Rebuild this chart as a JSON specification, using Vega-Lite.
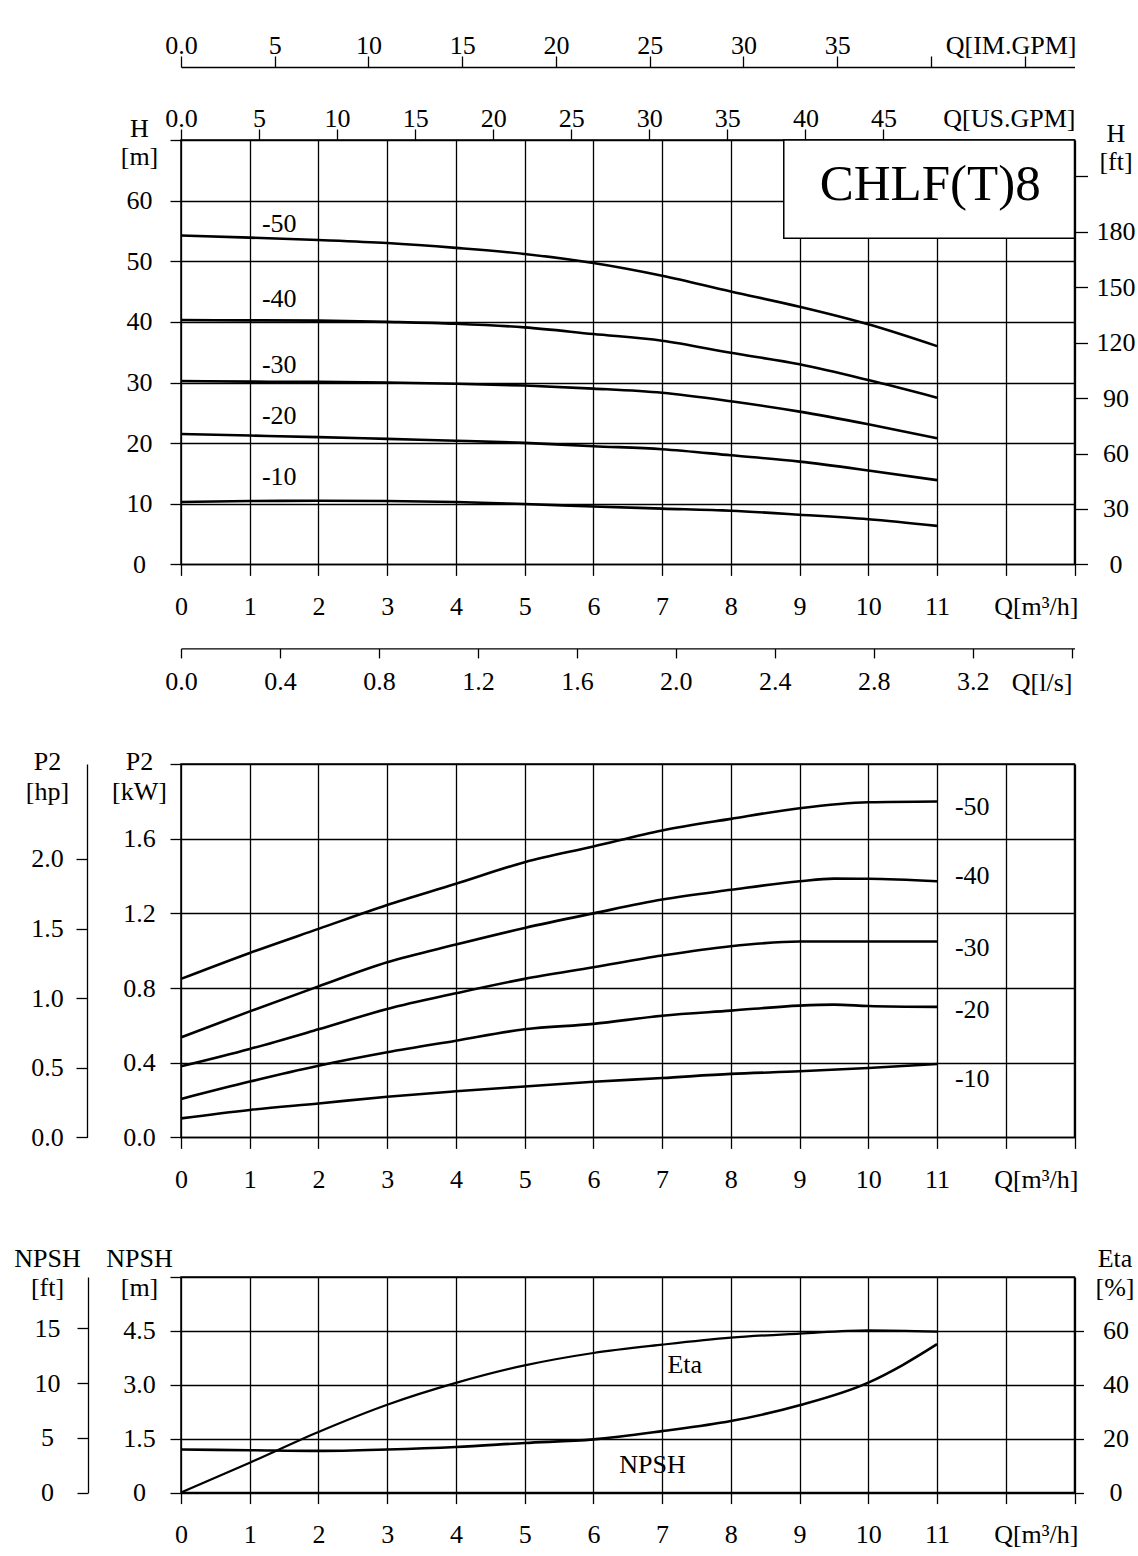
{
  "$schema": "https://vega.github.io/schema/vega-lite/v6.json",
  "background": "white",
  "padding": {"left": 13, "top": 31, "right": 0, "bottom": 0},
  "spacing": 50,
  "config": {
    "font": "Liberation Serif",
    "view": {"stroke": "black", "strokeWidth": 1.5},
    "axis": {
      "labelFont": "Liberation Serif", "labelFontSize": 26, "labelColor": "black",
      "titleFont": "Liberation Serif", "titleFontSize": 26, "titleFontWeight": "normal", "titleColor": "black",
      "tickColor": "black", "tickWidth": 1.3, "gridColor": "black", "gridOpacity": 1, "gridWidth": 1.3,
      "domainColor": "black", "domainWidth": 1.3, "labelOverlap": false, "labelFlush": false
    },
    "text": {"font": "Liberation Serif", "fontSize": 26, "color": "black"}
  },
  "datasets": {
    "head": [
      {"curve": "-50", "Q": 0, "H": 54.25}, {"curve": "-50", "Q": 1, "H": 53.9}, {"curve": "-50", "Q": 2, "H": 53.5},
      {"curve": "-50", "Q": 3, "H": 53.0}, {"curve": "-50", "Q": 4, "H": 52.2}, {"curve": "-50", "Q": 5, "H": 51.2},
      {"curve": "-50", "Q": 6, "H": 49.7}, {"curve": "-50", "Q": 7, "H": 47.6}, {"curve": "-50", "Q": 8, "H": 45.0},
      {"curve": "-50", "Q": 9, "H": 42.5}, {"curve": "-50", "Q": 10, "H": 39.6}, {"curve": "-50", "Q": 11, "H": 36.0},
      {"curve": "-40", "Q": 0, "H": 40.3}, {"curve": "-40", "Q": 1, "H": 40.25}, {"curve": "-40", "Q": 2, "H": 40.2},
      {"curve": "-40", "Q": 3, "H": 40.0}, {"curve": "-40", "Q": 4, "H": 39.7}, {"curve": "-40", "Q": 5, "H": 39.1},
      {"curve": "-40", "Q": 6, "H": 38.0}, {"curve": "-40", "Q": 7, "H": 36.9}, {"curve": "-40", "Q": 8, "H": 34.9},
      {"curve": "-40", "Q": 9, "H": 33.0}, {"curve": "-40", "Q": 10, "H": 30.4}, {"curve": "-40", "Q": 11, "H": 27.5},
      {"curve": "-30", "Q": 0, "H": 30.25}, {"curve": "-30", "Q": 1, "H": 30.15}, {"curve": "-30", "Q": 2, "H": 30.1},
      {"curve": "-30", "Q": 3, "H": 30.0}, {"curve": "-30", "Q": 4, "H": 29.8}, {"curve": "-30", "Q": 5, "H": 29.5},
      {"curve": "-30", "Q": 6, "H": 29.0}, {"curve": "-30", "Q": 7, "H": 28.3}, {"curve": "-30", "Q": 8, "H": 26.9},
      {"curve": "-30", "Q": 9, "H": 25.2}, {"curve": "-30", "Q": 10, "H": 23.1}, {"curve": "-30", "Q": 11, "H": 20.8},
      {"curve": "-20", "Q": 0, "H": 21.5}, {"curve": "-20", "Q": 1, "H": 21.25}, {"curve": "-20", "Q": 2, "H": 21.0},
      {"curve": "-20", "Q": 3, "H": 20.7}, {"curve": "-20", "Q": 4, "H": 20.4}, {"curve": "-20", "Q": 5, "H": 20.05},
      {"curve": "-20", "Q": 6, "H": 19.5}, {"curve": "-20", "Q": 7, "H": 19.0}, {"curve": "-20", "Q": 8, "H": 18.0},
      {"curve": "-20", "Q": 9, "H": 16.95}, {"curve": "-20", "Q": 10, "H": 15.5}, {"curve": "-20", "Q": 11, "H": 13.9},
      {"curve": "-10", "Q": 0, "H": 10.3}, {"curve": "-10", "Q": 1, "H": 10.45}, {"curve": "-10", "Q": 2, "H": 10.5},
      {"curve": "-10", "Q": 3, "H": 10.45}, {"curve": "-10", "Q": 4, "H": 10.3}, {"curve": "-10", "Q": 5, "H": 9.95},
      {"curve": "-10", "Q": 6, "H": 9.55}, {"curve": "-10", "Q": 7, "H": 9.2}, {"curve": "-10", "Q": 8, "H": 8.85},
      {"curve": "-10", "Q": 9, "H": 8.2}, {"curve": "-10", "Q": 10, "H": 7.45}, {"curve": "-10", "Q": 11, "H": 6.35}
    ],
    "head_labels": [
      {"label": "-50", "Q": 1.43, "H": 56.1},
      {"label": "-40", "Q": 1.43, "H": 43.75},
      {"label": "-30", "Q": 1.43, "H": 32.9},
      {"label": "-20", "Q": 1.43, "H": 24.4},
      {"label": "-10", "Q": 1.43, "H": 14.45}
    ],
    "model": [
      {"name": "CHLF(T)8", "Q1": 8.77, "Q2": 13, "H1": 53.8, "H2": 70, "Qc": 10.9, "Hc": 62.6}
    ],
    "power": [
      {"curve": "-50", "Q": 0, "P": 0.849}, {"curve": "-50", "Q": 1, "P": 0.988}, {"curve": "-50", "Q": 2, "P": 1.117},
      {"curve": "-50", "Q": 3, "P": 1.245}, {"curve": "-50", "Q": 4, "P": 1.358}, {"curve": "-50", "Q": 5, "P": 1.474},
      {"curve": "-50", "Q": 6, "P": 1.558}, {"curve": "-50", "Q": 7, "P": 1.644}, {"curve": "-50", "Q": 8, "P": 1.706},
      {"curve": "-50", "Q": 9, "P": 1.763}, {"curve": "-50", "Q": 10, "P": 1.795}, {"curve": "-50", "Q": 11, "P": 1.799},
      {"curve": "-40", "Q": 0, "P": 0.536}, {"curve": "-40", "Q": 1, "P": 0.675}, {"curve": "-40", "Q": 2, "P": 0.809},
      {"curve": "-40", "Q": 3, "P": 0.938}, {"curve": "-40", "Q": 4, "P": 1.033}, {"curve": "-40", "Q": 5, "P": 1.122},
      {"curve": "-40", "Q": 6, "P": 1.2}, {"curve": "-40", "Q": 7, "P": 1.274}, {"curve": "-40", "Q": 8, "P": 1.326},
      {"curve": "-40", "Q": 9, "P": 1.372}, {"curve": "-40", "Q": 9.5, "P": 1.386}, {"curve": "-40", "Q": 10, "P": 1.385},
      {"curve": "-40", "Q": 11, "P": 1.372},
      {"curve": "-30", "Q": 0, "P": 0.381}, {"curve": "-30", "Q": 1, "P": 0.474}, {"curve": "-30", "Q": 2, "P": 0.579},
      {"curve": "-30", "Q": 3, "P": 0.688}, {"curve": "-30", "Q": 4, "P": 0.772}, {"curve": "-30", "Q": 5, "P": 0.849},
      {"curve": "-30", "Q": 6, "P": 0.911}, {"curve": "-30", "Q": 7, "P": 0.974}, {"curve": "-30", "Q": 8, "P": 1.024},
      {"curve": "-30", "Q": 9, "P": 1.049}, {"curve": "-30", "Q": 10, "P": 1.049}, {"curve": "-30", "Q": 11, "P": 1.049},
      {"curve": "-20", "Q": 0, "P": 0.206}, {"curve": "-20", "Q": 1, "P": 0.299}, {"curve": "-20", "Q": 2, "P": 0.384},
      {"curve": "-20", "Q": 3, "P": 0.456}, {"curve": "-20", "Q": 4, "P": 0.518}, {"curve": "-20", "Q": 5, "P": 0.579},
      {"curve": "-20", "Q": 6, "P": 0.608}, {"curve": "-20", "Q": 7, "P": 0.652}, {"curve": "-20", "Q": 8, "P": 0.679},
      {"curve": "-20", "Q": 9, "P": 0.706}, {"curve": "-20", "Q": 9.5, "P": 0.711}, {"curve": "-20", "Q": 10, "P": 0.704},
      {"curve": "-20", "Q": 11, "P": 0.699},
      {"curve": "-10", "Q": 0, "P": 0.102}, {"curve": "-10", "Q": 1, "P": 0.147}, {"curve": "-10", "Q": 2, "P": 0.182},
      {"curve": "-10", "Q": 3, "P": 0.218}, {"curve": "-10", "Q": 4, "P": 0.247}, {"curve": "-10", "Q": 5, "P": 0.273},
      {"curve": "-10", "Q": 6, "P": 0.298}, {"curve": "-10", "Q": 7, "P": 0.318}, {"curve": "-10", "Q": 8, "P": 0.34},
      {"curve": "-10", "Q": 9, "P": 0.354}, {"curve": "-10", "Q": 10, "P": 0.372}, {"curve": "-10", "Q": 11, "P": 0.393}
    ],
    "power_labels": [
      {"label": "-50", "Q": 11.26, "P": 1.768},
      {"label": "-40", "Q": 11.26, "P": 1.402},
      {"label": "-30", "Q": 11.26, "P": 1.015},
      {"label": "-20", "Q": 11.26, "P": 0.683},
      {"label": "-10", "Q": 11.26, "P": 0.313}
    ],
    "npsh": [
      {"Q": 0, "NPSH": 1.2}, {"Q": 1, "NPSH": 1.18}, {"Q": 2, "NPSH": 1.16}, {"Q": 3, "NPSH": 1.2},
      {"Q": 4, "NPSH": 1.27}, {"Q": 5, "NPSH": 1.38}, {"Q": 6, "NPSH": 1.48}, {"Q": 7, "NPSH": 1.71},
      {"Q": 8, "NPSH": 1.99}, {"Q": 9, "NPSH": 2.43}, {"Q": 10, "NPSH": 3.06}, {"Q": 10.5, "NPSH": 3.55},
      {"Q": 11, "NPSH": 4.13}
    ],
    "eta": [
      {"Q": 0, "Eta": 0}, {"Q": 1, "Eta": 11.1}, {"Q": 2, "Eta": 22.5}, {"Q": 3, "Eta": 32.6},
      {"Q": 4, "Eta": 40.7}, {"Q": 5, "Eta": 47.2}, {"Q": 6, "Eta": 51.8}, {"Q": 7, "Eta": 54.9},
      {"Q": 8, "Eta": 57.5}, {"Q": 9, "Eta": 59.0}, {"Q": 10, "Eta": 60.2}, {"Q": 11, "Eta": 59.7}
    ],
    "eta_labels": [
      {"label": "Eta", "Q": 7.33, "Eta": 47.3},
      {"label": "NPSH", "Q": 6.86, "Eta": 10.2}
    ]
  },
  "vconcat": [
    {
      "width": 893.5,
      "height": 424.4,
      "layer": [
        {
          "data": {"name": "head"},
          "mark": {"type": "line", "interpolate": "monotone", "color": "black", "strokeWidth": 2.6},
          "encoding": {
            "x": {
              "field": "Q", "type": "quantitative",
              "scale": {"domain": [0, 13], "nice": false, "zero": false},
              "axis": {
                "orient": "bottom", "values": [0, 1, 2, 3, 4, 5, 6, 7, 8, 9, 10, 11, 12, 13],
                "grid": true, "domain": false, "tickSize": 11,
                "labelBaseline": "alphabetic", "labelPadding": 39,
                "labelExpr": "datum.value <= 11 ? datum.label : ''",
                "title": "Q[m³/h]", "titleX": 897, "titleY": 50, "titleAlign": "right", "titleBaseline": "alphabetic"
              }
            },
            "y": {
              "field": "H", "type": "quantitative",
              "scale": {"domain": [0, 70], "nice": false},
              "axis": {
                "orient": "left", "values": [0, 10, 20, 30, 40, 50, 60, 70],
                "grid": true, "domain": false, "tickSize": 11,
                "labelAlign": "center", "labelBaseline": "middle", "labelPadding": 31,
                "labelExpr": "datum.value < 70 ? datum.label : ''",
                "title": ["H", "[m]"], "titleAngle": 0, "titleX": -42, "titleY": -4,
                "titleAlign": "center", "titleBaseline": "alphabetic", "titleLineHeight": 28
              }
            },
            "detail": {"field": "curve", "type": "nominal"}
          }
        },
        {
          "data": {"name": "head_labels"},
          "mark": {"type": "text", "align": "center", "baseline": "middle"},
          "encoding": {
            "x": {"field": "Q", "type": "quantitative", "scale": {"domain": [0, 13], "nice": false, "zero": false}, "axis": null},
            "y": {"field": "H", "type": "quantitative", "scale": {"domain": [0, 70], "nice": false}, "axis": null},
            "text": {"field": "label"}
          }
        },
        {
          "data": {"name": "model"},
          "mark": {"type": "rect", "fill": "white", "stroke": "black", "strokeWidth": 1.5},
          "encoding": {
            "x": {"field": "Q1", "type": "quantitative", "scale": {"domain": [0, 13], "nice": false, "zero": false}, "axis": null},
            "x2": {"field": "Q2"},
            "y": {"field": "H1", "type": "quantitative", "scale": {"domain": [0, 70], "nice": false}, "axis": null},
            "y2": {"field": "H2"}
          }
        },
        {
          "data": {"name": "model"},
          "mark": {"type": "text", "fontSize": 51, "align": "center", "baseline": "middle"},
          "encoding": {
            "x": {"field": "Qc", "type": "quantitative", "scale": {"domain": [0, 13], "nice": false, "zero": false}, "axis": null},
            "y": {"field": "Hc", "type": "quantitative", "scale": {"domain": [0, 70], "nice": false}, "axis": null},
            "text": {"field": "name"}
          }
        },
        {
          "data": {"values": [{}]},
          "mark": {"type": "point", "opacity": 0},
          "encoding": {
            "x": {
              "datum": 0, "type": "quantitative",
              "scale": {"domain": [0, 57.24], "nice": false, "zero": false},
              "axis": {
                "orient": "top", "values": [0, 5, 10, 15, 20, 25, 30, 35, 40, 45],
                "grid": false, "domain": false, "tickSize": 11,
                "labelBaseline": "alphabetic", "labelPadding": 3,
                "labelExpr": "datum.value == 0 ? '0.0' : datum.label",
                "title": "Q[US.GPM]", "titleX": 894, "titleY": -14, "titleAlign": "right", "titleBaseline": "alphabetic"
              }
            },
            "y": {"datum": 0, "type": "quantitative", "scale": {"domain": [0, 1]}, "axis": null}
          }
        },
        {
          "data": {"values": [{}]},
          "mark": {"type": "point", "opacity": 0},
          "encoding": {
            "x": {
              "datum": 0, "type": "quantitative",
              "scale": {"domain": [0, 47.66], "nice": false, "zero": false},
              "axis": {
                "orient": "top", "offset": 73, "values": [0, 5, 10, 15, 20, 25, 30, 35, 40, 45],
                "grid": false, "domain": true, "tickSize": 11,
                "labelBaseline": "alphabetic", "labelPadding": 3,
                "labelExpr": "datum.value == 0 ? '0.0' : datum.value <= 35 ? datum.label : ''",
                "title": "Q[IM.GPM]", "titleX": 895, "titleY": -14, "titleAlign": "right", "titleBaseline": "alphabetic"
              }
            },
            "y": {"datum": 0, "type": "quantitative", "scale": {"domain": [0, 1]}, "axis": null}
          }
        },
        {
          "data": {"values": [{}]},
          "mark": {"type": "point", "opacity": 0},
          "encoding": {
            "x": {
              "datum": 0, "type": "quantitative",
              "scale": {"domain": [0, 3.6111], "nice": false, "zero": false},
              "axis": {
                "orient": "bottom", "offset": 84, "values": [0, 0.4, 0.8, 1.2, 1.6, 2.0, 2.4, 2.8, 3.2, 3.6],
                "grid": false, "domain": true, "tickSize": 9.5,
                "labelBaseline": "alphabetic", "labelPadding": 32,
                "labelExpr": "datum.value > 3.4 ? '' : format(datum.value, '.1f')",
                "title": "Q[l/s]", "titleX": 891, "titleY": 42, "titleAlign": "right", "titleBaseline": "alphabetic"
              }
            },
            "y": {"datum": 0, "type": "quantitative", "scale": {"domain": [0, 1]}, "axis": null}
          }
        },
        {
          "data": {"values": [{}]},
          "mark": {"type": "point", "opacity": 0},
          "encoding": {
            "x": {"datum": 0, "type": "quantitative", "scale": {"domain": [0, 13], "nice": false, "zero": false}, "axis": null},
            "y": {
              "datum": 0, "type": "quantitative",
              "scale": {"domain": [0, 229.66], "nice": false, "zero": false},
              "axis": {
                "orient": "right", "values": [0, 30, 60, 90, 120, 150, 180, 210],
                "grid": false, "domain": false, "tickSize": 13,
                "labelAlign": "center", "labelBaseline": "middle", "labelPadding": 28,
                "labelExpr": "datum.value < 200 ? datum.label : ''",
                "title": ["H", "[ft]"], "titleAngle": 0, "titleX": 41, "titleY": 1,
                "titleAlign": "center", "titleBaseline": "alphabetic", "titleLineHeight": 28
              }
            }
          }
        }
      ],
      "resolve": {"scale": {"x": "independent", "y": "independent"}, "axis": {"x": "independent", "y": "independent"}}
    },
    {
      "width": 893.5,
      "height": 373.4,
      "layer": [
        {
          "data": {"name": "power"},
          "mark": {"type": "line", "interpolate": "monotone", "color": "black", "strokeWidth": 2.6},
          "encoding": {
            "x": {
              "field": "Q", "type": "quantitative",
              "scale": {"domain": [0, 13], "nice": false, "zero": false},
              "axis": {
                "orient": "bottom", "values": [0, 1, 2, 3, 4, 5, 6, 7, 8, 9, 10, 11, 12, 13],
                "grid": true, "domain": false, "tickSize": 11,
                "labelBaseline": "alphabetic", "labelPadding": 39,
                "labelExpr": "datum.value <= 11 ? datum.label : ''",
                "title": "Q[m³/h]", "titleX": 897, "titleY": 50, "titleAlign": "right", "titleBaseline": "alphabetic"
              }
            },
            "y": {
              "field": "P", "type": "quantitative",
              "scale": {"domain": [0, 2], "nice": false},
              "axis": {
                "orient": "left", "values": [0, 0.4, 0.8, 1.2, 1.6, 2.0],
                "grid": true, "domain": false, "tickSize": 11,
                "labelAlign": "center", "labelBaseline": "middle", "labelPadding": 31,
                "labelExpr": "datum.value > 1.9 ? '' : format(datum.value, '.1f')",
                "title": ["P2", "[kW]"], "titleAngle": 0, "titleX": -42, "titleY": 5,
                "titleAlign": "center", "titleBaseline": "alphabetic", "titleLineHeight": 30
              }
            },
            "detail": {"field": "curve", "type": "nominal"}
          }
        },
        {
          "data": {"name": "power_labels"},
          "mark": {"type": "text", "align": "left", "baseline": "middle"},
          "encoding": {
            "x": {"field": "Q", "type": "quantitative", "scale": {"domain": [0, 13], "nice": false, "zero": false}, "axis": null},
            "y": {"field": "P", "type": "quantitative", "scale": {"domain": [0, 2], "nice": false}, "axis": null},
            "text": {"field": "label"}
          }
        },
        {
          "data": {"values": [{}]},
          "mark": {"type": "point", "opacity": 0},
          "encoding": {
            "x": {"datum": 0, "type": "quantitative", "scale": {"domain": [0, 13], "nice": false, "zero": false}, "axis": null},
            "y": {
              "datum": 0, "type": "quantitative",
              "scale": {"domain": [0, 2.682], "nice": false, "zero": false},
              "axis": {
                "orient": "left", "offset": 94, "values": [0, 0.5, 1, 1.5, 2],
                "grid": false, "domain": true, "tickSize": 11,
                "labelAlign": "center", "labelBaseline": "middle", "labelPadding": 29,
                "labelExpr": "format(datum.value, '.1f')",
                "title": ["P2", "[hp]"], "titleAngle": 0, "titleX": -40, "titleY": 5,
                "titleAlign": "center", "titleBaseline": "alphabetic", "titleLineHeight": 30
              }
            }
          }
        }
      ],
      "resolve": {"scale": {"x": "independent", "y": "independent"}, "axis": {"x": "independent", "y": "independent"}}
    },
    {
      "width": 893.5,
      "height": 215.6,
      "layer": [
        {
          "data": {"name": "npsh"},
          "mark": {"type": "line", "interpolate": "monotone", "color": "black", "strokeWidth": 2.6},
          "encoding": {
            "x": {
              "field": "Q", "type": "quantitative",
              "scale": {"domain": [0, 13], "nice": false, "zero": false},
              "axis": {
                "orient": "bottom", "values": [0, 1, 2, 3, 4, 5, 6, 7, 8, 9, 10, 11, 12, 13],
                "grid": true, "domain": false, "tickSize": 11,
                "labelBaseline": "alphabetic", "labelPadding": 39,
                "labelExpr": "datum.value <= 11 ? datum.label : ''",
                "title": "Q[m³/h]", "titleX": 897, "titleY": 50, "titleAlign": "right", "titleBaseline": "alphabetic"
              }
            },
            "y": {
              "field": "NPSH", "type": "quantitative",
              "scale": {"domain": [0, 6], "nice": false},
              "axis": {
                "orient": "left", "values": [0, 1.5, 3, 4.5, 6],
                "grid": true, "domain": false, "tickSize": 11,
                "labelAlign": "center", "labelBaseline": "middle", "labelPadding": 31,
                "labelExpr": "datum.value == 0 ? '0' : datum.value > 5 ? '' : format(datum.value, '.1f')",
                "title": ["NPSH", "[m]"], "titleAngle": 0, "titleX": -42, "titleY": -11,
                "titleAlign": "center", "titleBaseline": "alphabetic", "titleLineHeight": 29
              }
            }
          }
        },
        {
          "data": {"name": "eta"},
          "mark": {"type": "line", "interpolate": "monotone", "color": "black", "strokeWidth": 2.2},
          "encoding": {
            "x": {"field": "Q", "type": "quantitative", "scale": {"domain": [0, 13], "nice": false, "zero": false}, "axis": null},
            "y": {
              "field": "Eta", "type": "quantitative",
              "scale": {"domain": [0, 80], "nice": false},
              "axis": {
                "orient": "right", "values": [0, 20, 40, 60],
                "grid": false, "domain": false, "tickSize": 9,
                "labelAlign": "center", "labelBaseline": "middle", "labelPadding": 32,
                "title": ["Eta", "[%]"], "titleAngle": 0, "titleX": 40, "titleY": -11,
                "titleAlign": "center", "titleBaseline": "alphabetic", "titleLineHeight": 29
              }
            }
          }
        },
        {
          "data": {"name": "eta_labels"},
          "mark": {"type": "text", "align": "center", "baseline": "middle"},
          "encoding": {
            "x": {"field": "Q", "type": "quantitative", "scale": {"domain": [0, 13], "nice": false, "zero": false}, "axis": null},
            "y": {"field": "Eta", "type": "quantitative", "scale": {"domain": [0, 80], "nice": false}, "axis": null},
            "text": {"field": "label"}
          }
        },
        {
          "data": {"values": [{}]},
          "mark": {"type": "point", "opacity": 0},
          "encoding": {
            "x": {"datum": 0, "type": "quantitative", "scale": {"domain": [0, 13], "nice": false, "zero": false}, "axis": null},
            "y": {
              "datum": 0, "type": "quantitative",
              "scale": {"domain": [0, 19.685], "nice": false, "zero": false},
              "axis": {
                "orient": "left", "offset": 93, "values": [0, 5, 10, 15],
                "grid": false, "domain": true, "tickSize": 11,
                "labelAlign": "center", "labelBaseline": "middle", "labelPadding": 30,
                "title": ["NPSH", "[ft]"], "titleAngle": 0, "titleX": -41, "titleY": -11,
                "titleAlign": "center", "titleBaseline": "alphabetic", "titleLineHeight": 29
              }
            }
          }
        }
      ],
      "resolve": {"scale": {"x": "independent", "y": "independent"}, "axis": {"x": "independent", "y": "independent"}}
    }
  ]
}
